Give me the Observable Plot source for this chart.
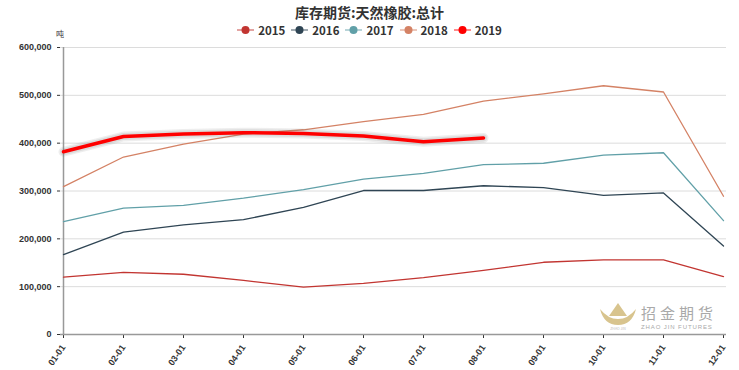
<!DOCTYPE html>
<html><head><meta charset="utf-8">
<script src="https://cdn.jsdelivr.net/npm/d3@7"></script>
<script src="https://cdn.jsdelivr.net/npm/@observablehq/plot@0.6"></script>
<style>
body{margin:0;background:#fff;font-family:"Noto Sans CJK SC","Noto Sans",sans-serif;}
#wrap{position:relative;width:739px;height:370px;overflow:hidden;}
#title{height:22px;line-height:24px;text-align:center;font-size:14px;font-weight:bold;color:#333;}
#legend{height:16px;display:flex;justify-content:center;align-items:center;gap:6px;font-size:11.5px;font-weight:bold;color:#333;font-family:"Noto Sans CJK SC",sans-serif;line-height:14px;}
.item{display:flex;align-items:center;gap:4px;}
#spacer{height:2px;}
#unit{position:absolute;left:56px;top:29px;font-size:8px;line-height:9px;color:#333;}
#wm{position:absolute;left:598px;top:299px;width:125px;height:34px;pointer-events:none;}
#wm .cn{position:absolute;left:43px;top:6px;font-size:15px;line-height:16px;letter-spacing:4px;color:#a9a9a9;}
#wm .en{position:absolute;left:43px;top:25px;font-size:6px;line-height:7px;letter-spacing:0.9px;color:#a9a9a9;font-family:"Liberation Sans",sans-serif;}
</style></head>
<body>
<div id="wrap">
<div id="title">库存期货:天然橡胶:总计</div>
<div id="legend"></div>
<div id="spacer"></div>
<div id="unit">吨</div>
<div id="chart"></div>
<div id="wm">
<svg width="42" height="34" style="position:absolute;left:0;top:0">
<path d="M2,10 Q6,26 20,26 Q34,26 38,10 Q30,20 20,20 Q10,20 2,10 Z" fill="#d8c48e"/>
<path d="M11,17 L20,4 L29,17 Z" fill="#d8c48e"/>
<text x="20" y="31" font-size="3.5" fill="#bbb" text-anchor="middle">ZHAO JIN</text>
</svg>
<div class="cn">招金期货</div>
<div class="en">ZHAO JIN FUTURES</div>
</div>
</div>
<script>
const months = ["01-01","02-01","03-01","04-01","05-01","06-01","07-01","08-01","09-01","10-01","11-01","12-01"];
const years = ["2015","2016","2017","2018","2019"];
const colors = ["#c23531","#2f4554","#61a0a8","#d48265","#ff0000"];
const v2015 = [120000,130000,126000,113000,99000,107000,119000,134000,151000,156000,156000,121000];
const v2016 = [167000,214000,229000,240000,266000,301000,301000,311000,307000,291000,296000,185000];
const v2017 = [236000,264000,270000,285000,303000,325000,337000,355000,358000,375000,380000,238000];
const v2018 = [309000,371000,398000,419000,428000,445000,460000,488000,503000,520000,507000,289000];
const v2019 = [382000,414000,419000,422000,420000,415000,403000,411000];
const yTicks = [0,100000,200000,300000,400000,500000,600000];

const series = [v2015,v2016,v2017,v2018,v2019];
const data = [];
series.forEach((vals,i)=>vals.forEach((v,j)=>data.push({year:years[i],month:months[j],value:v})));
const d2019 = data.filter(d=>d.year==="2019");
const dOld = data.filter(d=>d.year!=="2019");

// legend
const leg = document.getElementById("legend");
years.forEach((y,i)=>{
  const c = colors[i];
  leg.insertAdjacentHTML("beforeend",
   `<div class="item"><svg width="17" height="10"><line x1="0" y1="5" x2="17" y2="5" stroke="${c}" stroke-opacity="0.45" stroke-width="2"/><circle cx="8.5" cy="5" r="4" fill="${c}"/></svg><span>${y}</span></div>`);
});

const chart = Plot.plot({
  width: 739,
  height: 330,
  marginLeft: 60,
  marginRight: 13,
  marginTop: 7,
  marginBottom: 36,
  style: {fontFamily: "'Liberation Sans', sans-serif", fontSize: "9px", color: "#333", background: "#fff"},
  x: {type: "point", domain: months, padding: 0, label: null, tickRotate: -55, tickSize: 4},
  y: {domain: [0, 600000], ticks: yTicks, tickFormat: d3.format(","), label: null, tickSize: 3, grid: false},
  color: {domain: years, range: colors},
  marks: [
    Plot.ruleY(yTicks.filter(t=>t>0), {stroke: "#dcdcdc", strokeWidth: 1}),
    Plot.ruleX([months[0]], {stroke: "#999", strokeWidth: 1.5}),
    Plot.ruleY([0], {stroke: "#999", strokeWidth: 1.5}),
    Plot.line(dOld, {x: "month", y: "value", z: "year", stroke: "year", strokeWidth: 1.3}),
    Plot.line(d2019, {x: "month", y: "value", stroke: "#777", strokeWidth: 10, strokeOpacity: 0.12}),
    Plot.line(d2019, {x: "month", y: "value", stroke: "#777", strokeWidth: 7, strokeOpacity: 0.15}),
    Plot.line(d2019, {x: "month", y: "value", stroke: "#ff0000", strokeWidth: 3.5})
  ]
});
chart.style.fontWeight = "600";
document.getElementById("chart").appendChild(chart);
</script>
</body></html>
